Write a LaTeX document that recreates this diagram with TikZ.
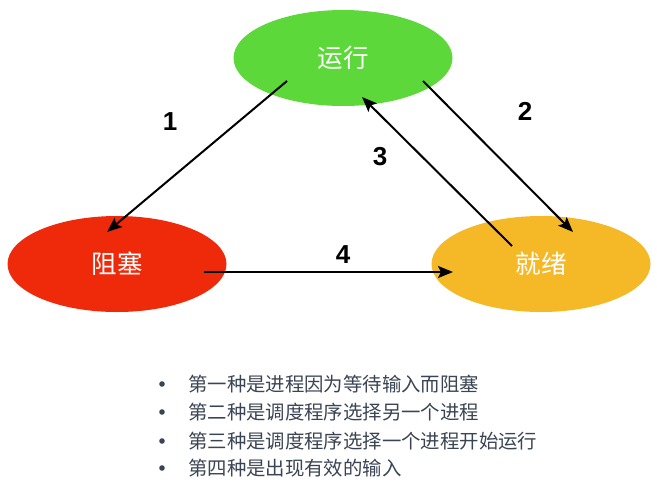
\documentclass[tikz,border=0pt]{standalone}
\usepackage{fontspec}
\setmainfont{Liberation Sans}
\newfontfamily\cjk{Noto Sans CJK SC}
\usepackage{tikz}
\usetikzlibrary{shapes.geometric}
\usetikzlibrary{arrows.meta}
\definecolor{rungreen}{HTML}{5DD83A}
\definecolor{blockred}{HTML}{EE2A0B}
\definecolor{readyyellow}{HTML}{F5B927}
\definecolor{listgray}{HTML}{3B4453}
\tikzset{
  state/.style={ellipse, minimum width=219pt, minimum height=96pt, inner sep=0pt, text=white, font=\cjk\fontsize{25.5}{25.5}\selectfont},
  trans/.style={-{Stealth[length=15pt, width=12pt, inset=3pt]}, line width=2pt},
  num/.style={font=\bfseries\fontsize{26}{26}\selectfont},
  item/.style={anchor=west, inner sep=0pt, text=listgray, font=\cjk\fontsize{19.4}{19.4}\selectfont}
}

\begin{document}
\begin{tikzpicture}[x=1pt, y=-1pt]
                \useasboundingbox (0,0) rectangle (657,483);
                \node[state, fill=rungreen] (run) at (343,58) {运行};
                \node[state, fill=blockred] (block) at (117,264) {阻塞};
                \node[state, fill=readyyellow] (ready) at (541,264) {就绪};
                \draw[trans] ([shift={(-56,23)}]run.center) -- ([shift={(-10,-32)}]block.center);
                \draw[trans] ([shift={(80,23)}]run.center) -- ([shift={(32,-32)}]ready.center);
                \draw[trans] ([shift={(-29,-18)}]ready.center) -- ([shift={(19,39)}]run.center);
                \draw[trans] ([shift={(87,8)}]block.center) -- ([shift={(-88,8)}]ready.center);
                \node[num] (n1) at (170,122) {1};
                \node[num] (n2) at (525,111) {2};
                \node[num] (n3) at (380,157) {3};
                \node[num] (n4) at (343,255) {4};
                \fill[listgray] (162,384) circle [radius=2.8pt];
                \node[item] (i1) at (188,384) {第一种是进程因为等待输入而阻塞};
                \fill[listgray] (162,412) circle [radius=2.8pt];
                \node[item] (i2) at (188,412) {第二种是调度程序选择另一个进程};
                \fill[listgray] (162,441) circle [radius=2.8pt];
                \node[item] (i3) at (188,441) {第三种是调度程序选择一个进程开始运行};
                \fill[listgray] (162,468) circle [radius=2.8pt];
                \node[item] (i4) at (188,468) {第四种是出现有效的输入};
            \end{tikzpicture}
\end{document}
